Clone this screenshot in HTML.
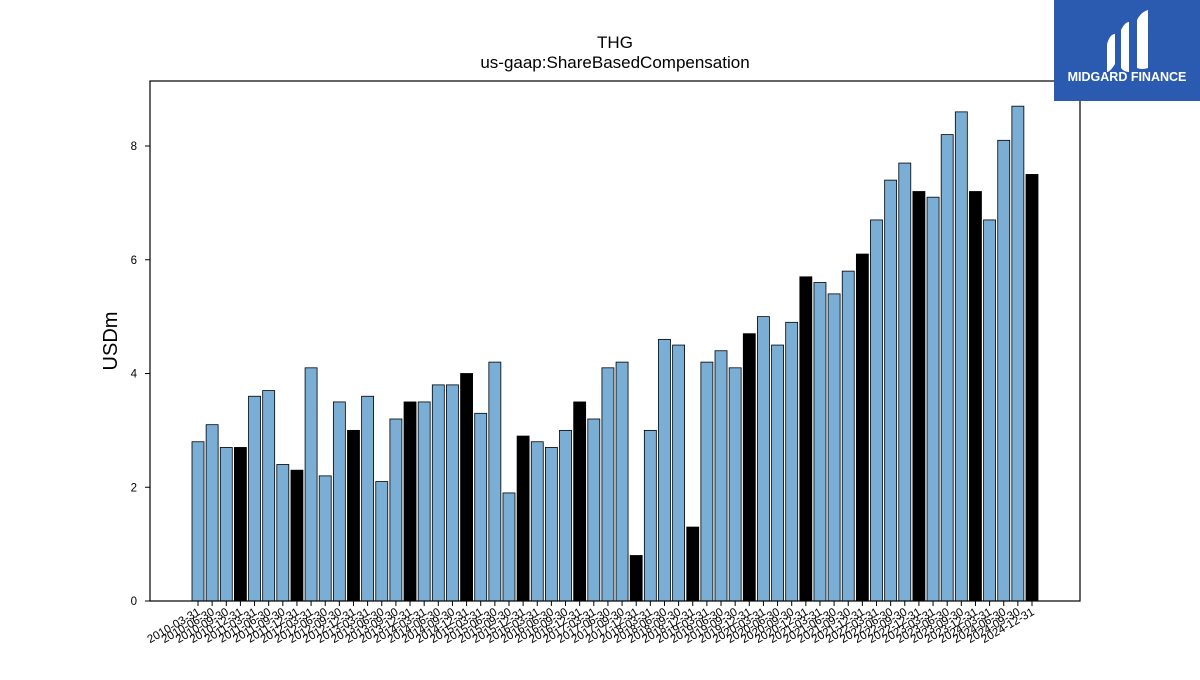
<!DOCTYPE html>
<html><head><meta charset="utf-8"><style>
body{margin:0;background:#fff;font-family:"Liberation Sans","DejaVu Sans",sans-serif}
</style></head><body>
<svg id="c" width="1200" height="675" xmlns="http://www.w3.org/2000/svg">
<rect width="1200" height="675" fill="#fff"/>
<text x="615" y="48" text-anchor="middle" font-size="17">THG</text>
<text x="615" y="68" text-anchor="middle" font-size="17">us-gaap:ShareBasedCompensation</text>
<text transform="translate(117,341) rotate(-90)" text-anchor="middle" font-size="20">USDm</text>
<g id="bars"></g><g id="yt"></g><g id="xt"></g>
<rect x="150" y="81" width="930" height="520" fill="none" stroke="#000" stroke-width="1.2"/>
<g>
<rect x="1054" y="0" width="146" height="101" fill="#2b5bb0"/>
<path d="M1107 44 q3-10 8-10 v30 q-5 8-8 8z M1121 30 q4-8 8-8 v50 q-5 0-8-4z M1137 20 q4-8 11-10 v58 q-6 2-11 0z" fill="#fff"/>
<text x="1127" y="81" text-anchor="middle" font-size="12.5" font-weight="bold" fill="#fff">MIDGARD FINANCE</text>
</g>
</svg>
<script>
const dates=[];
for(let y=2010;y<=2024;y++){for(const q of ['03-31','06-30','09-30','12-31'])dates.push(y+'-'+q);}
const values=[2.8,3.1,2.7,2.7,3.6,3.7,2.4,2.3,4.1,2.2,3.5,3.0,3.6,2.1,3.2,3.5,3.5,3.8,3.8,4.0,3.3,4.2,1.9,2.9,2.8,2.7,3.0,3.5,3.2,4.1,4.2,0.8,3.0,4.6,4.5,1.3,4.2,4.4,4.1,4.7,5.0,4.5,4.9,5.7,5.6,5.4,5.8,6.1,6.7,7.4,7.7,7.2,7.1,8.2,8.6,7.2,6.7,8.1,8.7,7.5];
const yTicks=[0,2,4,6,8];
const NS='http://www.w3.org/2000/svg';
const y=v=>601-v*56.875;
const x=i=>198+i*(1032-198)/(dates.length-1);
function mk(t,a,p){const e=document.createElementNS(NS,t);for(const k in a)e.setAttribute(k,a[k]);p.appendChild(e);return e;}
const bars=document.getElementById('bars'),yt=document.getElementById('yt'),xt=document.getElementById('xt');
values.forEach((v,i)=>{
 const r=mk('rect',{x:x(i)-6,y:y(v),width:12,height:601-y(v),fill:dates[i].endsWith('12-31')?'#000':'#7aaed4',stroke:'#000','stroke-width':0.8},bars);
 
 
 const tk=mk('line',{x1:x(i),x2:x(i),y1:601,y2:606,stroke:'#000'},xt);
 
 
 const t=mk('text',{transform:`translate(${x(i)+3},${614}) rotate(-30)`,'text-anchor':'end','font-size':11.5},xt);
 t.textContent=dates[i];
 
 
});
yTicks.forEach(v=>{
 const l=mk('line',{x1:145,x2:150,y1:y(v),y2:y(v),stroke:'#000'},yt);
 
 
 const t=mk('text',{x:137,y:y(v)+4,'text-anchor':'end','font-size':11.5},yt);
 t.textContent=v;
 
 
});
</script>
</body></html>
